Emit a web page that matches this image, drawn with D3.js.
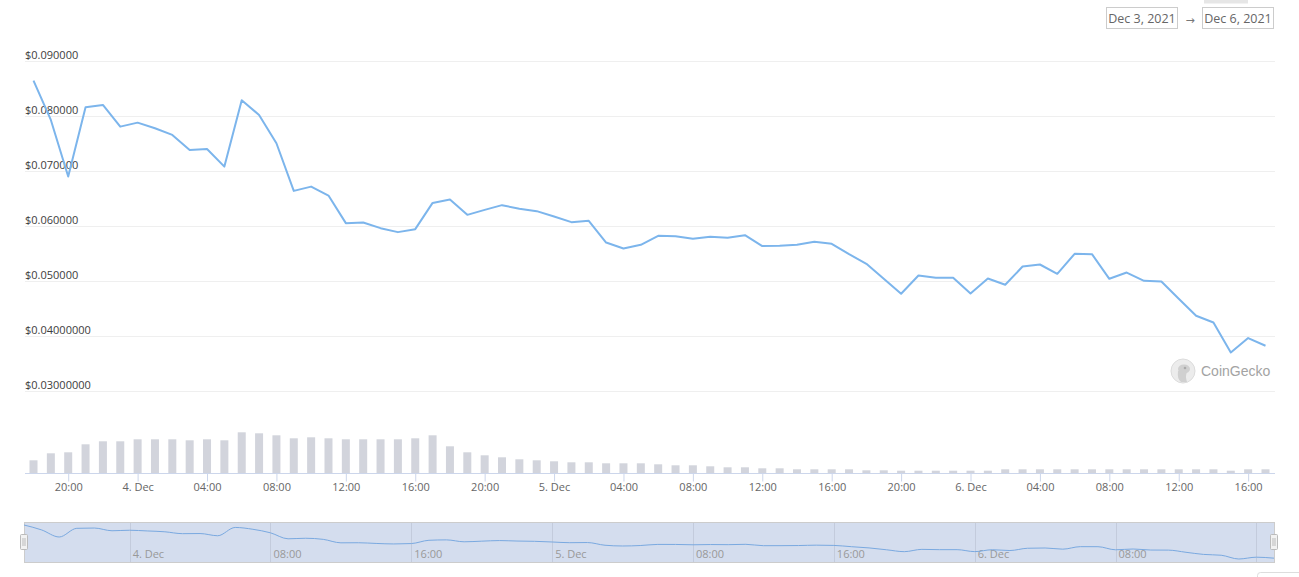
<!DOCTYPE html>
<html>
<head>
<meta charset="utf-8">
<script src="https://cdn.jsdelivr.net/npm/d3@7"></script>
<style>
  html, body { margin: 0; padding: 0; background: #fff; }
  svg { display: block; font-family: "Open Sans", "Liberation Sans", sans-serif; }
</style>
</head>
<body>
<svg id="chart" width="1299" height="577"></svg>
<script>
// ---- data ----
const startTime = Date.UTC(2021, 11, 3, 18); // Dec 3, 2021 18:00
const hourCount = 72;
const times = d3.range(hourCount).map(i => new Date(startTime + i * 3600e3));

const prices = [
  0.08637, 0.07924, 0.06895, 0.08154, 0.08196, 0.07802, 0.07875, 0.07773, 0.07652, 0.07379,
  0.07397, 0.07076, 0.08281, 0.08015, 0.07501, 0.06635, 0.06713, 0.06550, 0.06049, 0.06060,
  0.05958, 0.05886, 0.05940, 0.06417, 0.06477, 0.06200, 0.06290, 0.06376, 0.06309, 0.06267,
  0.06169, 0.06067, 0.06091, 0.05697, 0.05588, 0.05655, 0.05818, 0.05813, 0.05764, 0.05800,
  0.05782, 0.05831, 0.05632, 0.05637, 0.05655, 0.05710, 0.05673, 0.05486, 0.05310, 0.05038,
  0.04766, 0.05098, 0.05056, 0.05056, 0.04771, 0.05044, 0.04929, 0.05261, 0.05298, 0.05129,
  0.05492, 0.05486, 0.05038, 0.05152, 0.05002, 0.04990, 0.04675, 0.04367, 0.04245, 0.03700,
  0.03962, 0.03822
];

const volumes = [
  1.27, 1.97, 2.07, 2.87, 3.17, 3.17, 3.37, 3.37, 3.37, 3.27,
  3.37, 3.27, 4.07, 3.97, 3.77, 3.47, 3.57, 3.47, 3.37, 3.37,
  3.37, 3.37, 3.47, 3.77, 2.67, 2.07, 1.77, 1.57, 1.37, 1.27,
  1.17, 1.07, 1.07, 0.97, 0.97, 0.97, 0.87, 0.77, 0.77, 0.67,
  0.57, 0.57, 0.47, 0.47, 0.37, 0.37, 0.37, 0.37, 0.27, 0.27,
  0.23, 0.23, 0.23, 0.23, 0.23, 0.23, 0.37, 0.37, 0.37, 0.37,
  0.37, 0.37, 0.37, 0.37, 0.37, 0.37, 0.37, 0.37, 0.37, 0.23,
  0.37, 0.37
];

const yTicks = [0.03, 0.04, 0.05, 0.06, 0.07, 0.08, 0.09];
const yTickLabels = ["$0.03000000", "$0.04000000", "$0.050000", "$0.060000", "$0.070000", "$0.080000", "$0.090000"];
const dateFrom = "Dec 3, 2021";
const dateTo = "Dec 6, 2021";
const watermark = "CoinGecko";

// ---- layout ----
const svg = d3.select("#chart");
const plotLeft = 25, plotRight = 1275;

const x = d3.scaleUtc().domain([times[0], times[times.length - 1]]).range([33.5, 1265.5]);
const y = d3.scaleLinear().domain([0.03, 0.09]).range([391, 60.7]);
const yVol = d3.scaleLinear().domain([0, 5]).range([473, 423]);

const fmtTick = d => (d.getUTCHours() === 0 && d.getUTCMinutes() === 0)
  ? `${d.getUTCDate()}. ${d3.utcFormat("%b")(d)}`
  : d3.utcFormat("%H:%M")(d);

// grid lines + y labels
const yLabelMap = new Map(yTicks.map((t, i) => [t, yTickLabels[i]]));
const grid = svg.append("g");
grid.selectAll("line").data(yTicks).join("line")
  .attr("x1", plotLeft).attr("x2", plotRight)
  .attr("y1", d => Math.round(y(d)) + 0.5).attr("y2", d => Math.round(y(d)) + 0.5)
  .attr("stroke", "#efefef").attr("stroke-width", 1);
grid.selectAll("text").data(yTicks).join("text")
  .attr("x", plotLeft).attr("y", d => y(d) - 2)
  .attr("font-size", 11).attr("fill", "#3d3d3d")
  .text(d => yLabelMap.get(d));

// volume bars
svg.append("g").selectAll("rect").data(times).join("rect")
  .attr("x", d => x(d) - 4).attr("width", 8)
  .attr("y", (d, i) => yVol(volumes[i]))
  .attr("height", (d, i) => yVol(0) - yVol(volumes[i]))
  .attr("fill", "#d2d4dc");

// x axis
const xAxis = d3.axisBottom(x).ticks(d3.utcHour.every(4)).tickFormat(fmtTick).tickSize(8).tickSizeOuter(0);
const gx = svg.append("g").attr("transform", "translate(0,473.5)").call(xAxis);
gx.select(".domain").remove();
gx.append("line").attr("x1", plotLeft).attr("x2", plotRight).attr("stroke", "#ccd6eb");
gx.selectAll(".tick line").attr("stroke", "#ccd6eb");
gx.selectAll(".tick text").attr("fill", "#666").attr("font-size", 11)
  .attr("font-family", "Open Sans, Liberation Sans, sans-serif").attr("dy", "0.9em").attr("y", 8);

// price line
const line = d3.line().x((d, i) => x(times[i])).y(d => y(d));
svg.append("path").datum(prices)
  .attr("d", line).attr("fill", "none")
  .attr("stroke", "#7cb5ec").attr("stroke-width", 2).attr("stroke-linejoin", "round");

// watermark
const wm = svg.append("g").attr("transform", "translate(1183,371)");
wm.append("circle").attr("r", 12).attr("fill", "#ececec").attr("stroke", "#dcdcdc");
wm.append("ellipse").attr("cx", 1).attr("cy", -2).attr("rx", 6).attr("ry", 4.5).attr("fill", "#d0d0d0");
wm.append("path").attr("d", "M-5,0 Q-6,8 -2,11 L4,11 Q2,5 4,1 Z").attr("fill", "#d0d0d0");
wm.append("circle").attr("cx", 2).attr("cy", -3).attr("r", 1.3).attr("fill", "#aaa");
svg.append("text").attr("x", 1201).attr("y", 375.5)
  .attr("font-family", "Liberation Sans, Arial, sans-serif").attr("font-size", 14)
  .attr("fill", "#a3a3a3").text(watermark);

// date range boxes
svg.append("rect").attr("x", 1204).attr("y", -2).attr("width", 44).attr("height", 5.5).attr("fill", "#e6e6e6");
const boxes = [{ x: 1106.5, w: 71, t: dateFrom }, { x: 1202.5, w: 71, t: dateTo }];
const bg = svg.append("g").selectAll("g").data(boxes).join("g");
bg.append("rect").attr("x", d => d.x).attr("y", 7.5).attr("width", d => d.w).attr("height", 21)
  .attr("fill", "#fff").attr("stroke", "#cccccc");
bg.append("text").attr("x", d => d.x + d.w / 2).attr("y", 22.5).attr("text-anchor", "middle")
  .attr("font-size", 12.5).attr("fill", "#666").text(d => d.t);
svg.append("text").attr("x", 1190).attr("y", 23.5).attr("text-anchor", "middle")
  .attr("font-family", "DejaVu Sans, sans-serif")
  .attr("font-size", 11).attr("fill", "#777").text("→");

// navigator
const navX = d3.scaleUtc().domain([times[0], times[times.length - 1]]).range([24, 1274]);
const navY = d3.scaleLinear().domain(d3.extent(prices)).range([559, 525]);
const nav = svg.append("g");
nav.append("rect").attr("x", 24.5).attr("y", 522.5).attr("width", 1250).attr("height", 40)
  .attr("fill", "#d4ddee").attr("stroke", "#cccccc");
const navTicks = navX.ticks(d3.utcHour.every(8));
nav.selectAll("line.ng").data(navTicks).join("line").attr("class", "ng")
  .attr("x1", d => Math.round(navX(d)) + 0.5).attr("x2", d => Math.round(navX(d)) + 0.5)
  .attr("y1", 523).attr("y2", 562).attr("stroke", "#c3cbdc");
nav.selectAll("text").data(navTicks.filter(d => navX(d) < 1240)).join("text")
  .attr("x", d => navX(d) + 3).attr("y", 557.5)
  .attr("font-size", 11).attr("fill", "#999").text(fmtTick);
const navLine = d3.line().curve(d3.curveMonotoneX).x((d, i) => navX(times[i])).y(d => navY(d));
nav.append("path").datum(prices).attr("d", navLine).attr("fill", "none")
  .attr("stroke", "#7aa9e0").attr("stroke-width", 1);
// handles
[20.5, 1270.5].forEach(hx => {
  const h = nav.append("g");
  h.append("rect").attr("x", hx).attr("y", 534.5).attr("width", 7).attr("height", 15)
    .attr("fill", "#f2f2f2").attr("stroke", "#bbbbbb").attr("rx", 1);
  h.append("line").attr("x1", hx + 2.5).attr("x2", hx + 2.5).attr("y1", 538).attr("y2", 546).attr("stroke", "#bbb");
  h.append("line").attr("x1", hx + 4.5).attr("x2", hx + 4.5).attr("y1", 538).attr("y2", 546).attr("stroke", "#bbb");
});
// partial button bottom right
svg.append("rect").attr("x", 1257.5).attr("y", 572.5).attr("width", 50).attr("height", 20).attr("rx", 3)
  .attr("fill", "#fff").attr("stroke", "#dddddd");
</script>
</body>
</html>
